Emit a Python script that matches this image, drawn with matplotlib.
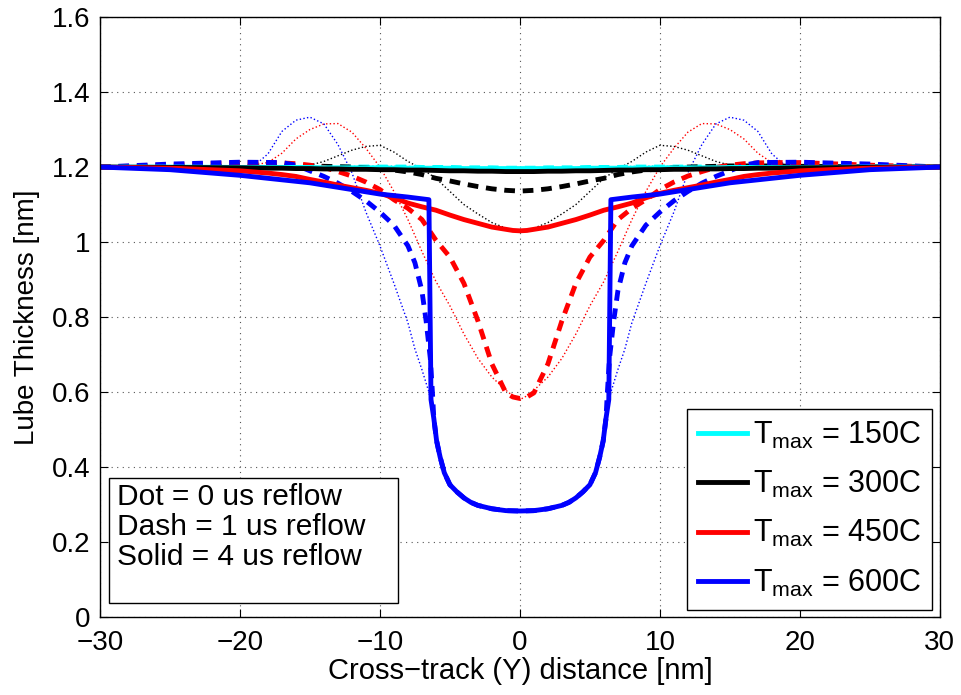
import matplotlib
matplotlib.use('Agg')
import matplotlib.pyplot as plt
from matplotlib.patches import Rectangle
from matplotlib.ticker import FormatStrFormatter

plt.rcParams['font.family'] = ['Liberation Sans', 'DejaVu Sans']
plt.rcParams['mathtext.fontset'] = 'custom'
plt.rcParams['mathtext.rm'] = 'Liberation Sans'
plt.rcParams['mathtext.it'] = 'Liberation Sans'

# shared x grid for the 150C / 300C / 450C curves [nm]
xg = [-30, -25, -20, -18, -17, -16, -15, -14, -13, -12, -11, -10, -9, -8, -7, -6, -5, -4, -3, -2, -1, -0.5,
      0, 0.5, 1, 2, 3, 4, 5, 6, 7, 8, 9, 10, 11, 12, 13, 14, 15, 16, 17, 18, 20, 25, 30]

# Tmax = 150C
cyan_dot = [1.2, 1.2, 1.2, 1.2, 1.2, 1.2, 1.2, 1.201, 1.201, 1.202, 1.203, 1.203, 1.203, 1.202, 1.201, 1.2, 1.199, 1.198, 1.197, 1.197, 1.196, 1.196,
            1.196, 1.196, 1.196, 1.197, 1.197, 1.198, 1.199, 1.2, 1.201, 1.202, 1.203, 1.203, 1.203, 1.202, 1.201, 1.201, 1.2, 1.2, 1.2, 1.2, 1.2, 1.2, 1.2]
cyan_dash = [1.2, 1.2, 1.2, 1.2, 1.2, 1.2, 1.2, 1.2, 1.2, 1.2, 1.2, 1.2, 1.2, 1.2, 1.199, 1.199, 1.199, 1.198, 1.198, 1.198, 1.197, 1.197,
             1.197, 1.197, 1.197, 1.198, 1.198, 1.198, 1.199, 1.199, 1.199, 1.2, 1.2, 1.2, 1.2, 1.2, 1.2, 1.2, 1.2, 1.2, 1.2, 1.2, 1.2, 1.2, 1.2]
cyan_solid = [1.2, 1.2, 1.199, 1.199, 1.199, 1.199, 1.199, 1.198, 1.198, 1.198, 1.198, 1.198, 1.197, 1.197, 1.197, 1.197, 1.197, 1.196, 1.196, 1.196, 1.196, 1.196,
              1.196, 1.196, 1.196, 1.196, 1.196, 1.196, 1.197, 1.197, 1.197, 1.197, 1.197, 1.198, 1.198, 1.198, 1.198, 1.198, 1.199, 1.199, 1.199, 1.199, 1.199, 1.2, 1.2]

# Tmax = 300C
black_dot = [1.2, 1.2, 1.2, 1.2, 1.2, 1.2, 1.205, 1.215, 1.23, 1.245, 1.255, 1.258, 1.24, 1.215, 1.195, 1.17, 1.135, 1.1, 1.075, 1.052, 1.037, 1.033,
             1.032, 1.033, 1.037, 1.052, 1.075, 1.1, 1.135, 1.17, 1.195, 1.215, 1.24, 1.258, 1.255, 1.245, 1.23, 1.215, 1.205, 1.2, 1.2, 1.2, 1.2, 1.2, 1.2]
black_dash = [1.2, 1.201, 1.202, 1.203, 1.203, 1.203, 1.203, 1.202, 1.201, 1.2, 1.198, 1.195, 1.192, 1.187, 1.18, 1.17, 1.163, 1.155, 1.148, 1.142, 1.138, 1.137,
              1.136, 1.137, 1.138, 1.142, 1.148, 1.155, 1.163, 1.17, 1.18, 1.187, 1.192, 1.195, 1.198, 1.2, 1.201, 1.202, 1.203, 1.203, 1.203, 1.203, 1.202, 1.201, 1.2]
black_solid = [1.2, 1.199, 1.198, 1.197, 1.197, 1.196, 1.196, 1.195, 1.195, 1.194, 1.194, 1.193, 1.193, 1.192, 1.192, 1.191, 1.19, 1.19, 1.189, 1.189, 1.188, 1.188,
               1.188, 1.188, 1.188, 1.189, 1.189, 1.19, 1.19, 1.191, 1.192, 1.192, 1.193, 1.193, 1.194, 1.194, 1.195, 1.195, 1.196, 1.196, 1.197, 1.197, 1.198, 1.199, 1.2]

# Tmax = 450C
red_dot = [1.2, 1.2, 1.2, 1.212, 1.237, 1.275, 1.3, 1.315, 1.316, 1.293, 1.25, 1.2, 1.135, 1.06, 0.975, 0.895, 0.83, 0.755, 0.69, 0.64, 0.605, 0.59,
           0.58, 0.59, 0.605, 0.64, 0.69, 0.755, 0.83, 0.895, 0.975, 1.06, 1.135, 1.2, 1.25, 1.293, 1.316, 1.315, 1.3, 1.275, 1.237, 1.212, 1.2, 1.2, 1.2]
red_dash = [1.2, 1.205, 1.212, 1.212, 1.211, 1.209, 1.205, 1.199, 1.188, 1.176, 1.16, 1.14, 1.113, 1.09, 1.06, 1.005, 0.96, 0.89, 0.79, 0.675, 0.598, 0.587,
            0.583, 0.587, 0.598, 0.675, 0.79, 0.89, 0.96, 1.005, 1.06, 1.09, 1.113, 1.14, 1.16, 1.176, 1.188, 1.199, 1.205, 1.209, 1.211, 1.212, 1.212, 1.205, 1.2]
red_solid = [1.2, 1.197, 1.19, 1.184, 1.18, 1.175, 1.167, 1.16, 1.152, 1.145, 1.138, 1.13, 1.118, 1.104, 1.094, 1.085, 1.072, 1.06, 1.05, 1.04, 1.034, 1.031,
             1.03, 1.031, 1.034, 1.04, 1.05, 1.06, 1.072, 1.085, 1.094, 1.104, 1.118, 1.13, 1.138, 1.145, 1.152, 1.16, 1.167, 1.175, 1.18, 1.184, 1.19, 1.197, 1.2]

# Tmax = 600C (own x grids, the edges are steep)
blue_dot_x = [-30, -25, -20, -19, -18, -17, -16, -15, -14, -13, -12, -11, -10, -9, -8, -7.5, -7, -6.5, -6.2, -5.95, -5.7, -5.4, -5, -4.5, -4, -3.5, -3, -2, -1,
              0, 1, 2, 3, 3.5, 4, 4.5, 5, 5.4, 5.7, 5.95, 6.2, 6.5, 7, 7.5, 8, 9, 10, 11, 12, 13, 14, 15, 16, 17, 18, 19, 20, 25, 30]
blue_dot = [1.2, 1.2, 1.2, 1.203, 1.235, 1.295, 1.325, 1.333, 1.315, 1.26, 1.185, 1.08, 0.99, 0.89, 0.785, 0.715, 0.66, 0.6, 0.54, 0.47, 0.427, 0.385, 0.353, 0.334, 0.318, 0.306, 0.298, 0.289, 0.284,
            0.283, 0.284, 0.289, 0.298, 0.306, 0.318, 0.334, 0.353, 0.385, 0.427, 0.47, 0.54, 0.6, 0.66, 0.715, 0.785, 0.89, 0.99, 1.08, 1.185, 1.26, 1.315, 1.333, 1.325, 1.295, 1.235, 1.203, 1.2, 1.2, 1.2]
blue_dash_x = [-30, -25, -20, -17, -16, -15, -14, -13, -12, -11, -10, -9, -8, -7.5, -7, -6.7, -6.4, -6.25, -6.15, -5.95, -5.7, -5.4, -5, -4.5, -4, -3.5, -3, -2, -1,
               0, 1, 2, 3, 3.5, 4, 4.5, 5, 5.4, 5.7, 5.95, 6.15, 6.25, 6.4, 6.7, 7, 7.5, 8, 9, 10, 11, 12, 13, 14, 15, 16, 17, 20, 25, 30]
blue_dash = [1.2, 1.208, 1.213, 1.212, 1.205, 1.19, 1.175, 1.157, 1.135, 1.11, 1.08, 1.045, 0.99, 0.945, 0.87, 0.79, 0.69, 0.6, 0.53, 0.47, 0.427, 0.385, 0.353, 0.334, 0.318, 0.306, 0.298, 0.289, 0.284,
             0.283, 0.284, 0.289, 0.298, 0.306, 0.318, 0.334, 0.353, 0.385, 0.427, 0.47, 0.53, 0.6, 0.69, 0.79, 0.87, 0.945, 0.99, 1.045, 1.08, 1.11, 1.135, 1.157, 1.175, 1.19, 1.205, 1.212, 1.213, 1.208, 1.2]
blue_solid_x = [-30, -25, -20, -15, -12, -10, -8, -6.5, -6.35, -6.15, -5.95, -5.7, -5.4, -5, -4.5, -4, -3.5, -3, -2, -1,
                0, 1, 2, 3, 3.5, 4, 4.5, 5, 5.4, 5.7, 5.95, 6.15, 6.35, 6.5, 8, 10, 12, 15, 20, 25, 30]
blue_solid = [1.2, 1.193, 1.178, 1.158, 1.14, 1.128, 1.12, 1.113, 0.58, 0.53, 0.47, 0.427, 0.385, 0.353, 0.334, 0.318, 0.306, 0.298, 0.289, 0.284,
              0.283, 0.284, 0.289, 0.298, 0.306, 0.318, 0.334, 0.353, 0.385, 0.427, 0.47, 0.53, 0.58, 1.113, 1.12, 1.128, 1.14, 1.158, 1.178, 1.193, 1.2]

legend_labels = [r'T$_{\mathrm{max}}$ = 150C', r'T$_{\mathrm{max}}$ = 300C',
                 r'T$_{\mathrm{max}}$ = 450C', r'T$_{\mathrm{max}}$ = 600C']
note_text = 'Dot = 0 us reflow\nDash = 1 us reflow\nSolid = 4 us reflow'

FS = 20
dash_style = (2.2, 1.6)

fig = plt.figure(figsize=(9.61, 6.95), dpi=100)
ax = fig.add_axes([0.104, 0.112, 0.874, 0.8635])

# 0 us reflow (dotted)
ax.plot(xg, cyan_dot, color='cyan', lw=1.0, ls=':')
ax.plot(xg, black_dot, color='black', lw=1.0, ls=':')
ax.plot(xg, red_dot, color='red', lw=1.0, ls=':')
ax.plot(blue_dot_x, blue_dot, color='blue', lw=1.0, ls=':')
# 1 us reflow (dashed)
ax.plot(xg, cyan_dash, color='cyan', lw=3.5, ls='--', dashes=dash_style)
ax.plot(xg, black_dash, color='black', lw=3.5, ls='--', dashes=dash_style)
ax.plot(xg, red_dash, color='red', lw=3.5, ls='--', dashes=dash_style)
ax.plot(blue_dash_x, blue_dash, color='blue', lw=3.5, ls='--', dashes=dash_style)
# 4 us reflow (solid)
h1, = ax.plot(xg, cyan_solid, color='cyan', lw=3.5)
h2, = ax.plot(xg, black_solid, color='black', lw=3.5)
h3, = ax.plot(xg, red_solid, color='red', lw=3.5)
h4, = ax.plot(blue_solid_x, blue_solid, color='blue', lw=3.5)

ax.set_xlim(-30, 30)
ax.set_ylim(0, 1.6)
ax.set_xticks(range(-30, 31, 10))
ax.set_yticks([0, 0.2, 0.4, 0.6, 0.8, 1.0, 1.2, 1.4, 1.6])
ax.yaxis.set_major_formatter(FormatStrFormatter('%g'))
ax.tick_params(direction='in', top=True, right=True, labelsize=FS, length=6, width=0.8, pad=7)
ax.tick_params(axis='x', pad=9)
ax.grid(True, color='#555555', linestyle=(0, (1, 4)), linewidth=0.8)
for s in ax.spines.values():
    s.set_linewidth(1.0)

ax.set_xlabel('Cross\u2212track (Y) distance [nm]', fontsize=FS + 1, labelpad=1)
ax.set_ylabel('Lube Thickness [nm]', fontsize=FS, labelpad=8)

leg = ax.legend([h1, h2, h3, h4], legend_labels, loc='lower right', fontsize=FS + 2,
                frameon=True, fancybox=False, edgecolor='black', framealpha=1,
                handlelength=1.6, handletextpad=0.2, labelspacing=0.6,
                borderpad=0.35, borderaxespad=0.25)
leg.get_frame().set_linewidth(1.0)

# reflow-time annotation box
fig.patches.append(Rectangle((0.1134, 0.1324), 0.3006, 0.1798, transform=fig.transFigure,
                             facecolor='white', edgecolor='black', lw=1.0, zorder=5))
fig.text(0.122, 0.305, note_text, fontsize=FS + 1.5, va='top', ha='left',
         linespacing=1.1, zorder=6)

plt.savefig('out.png', dpi=100)
